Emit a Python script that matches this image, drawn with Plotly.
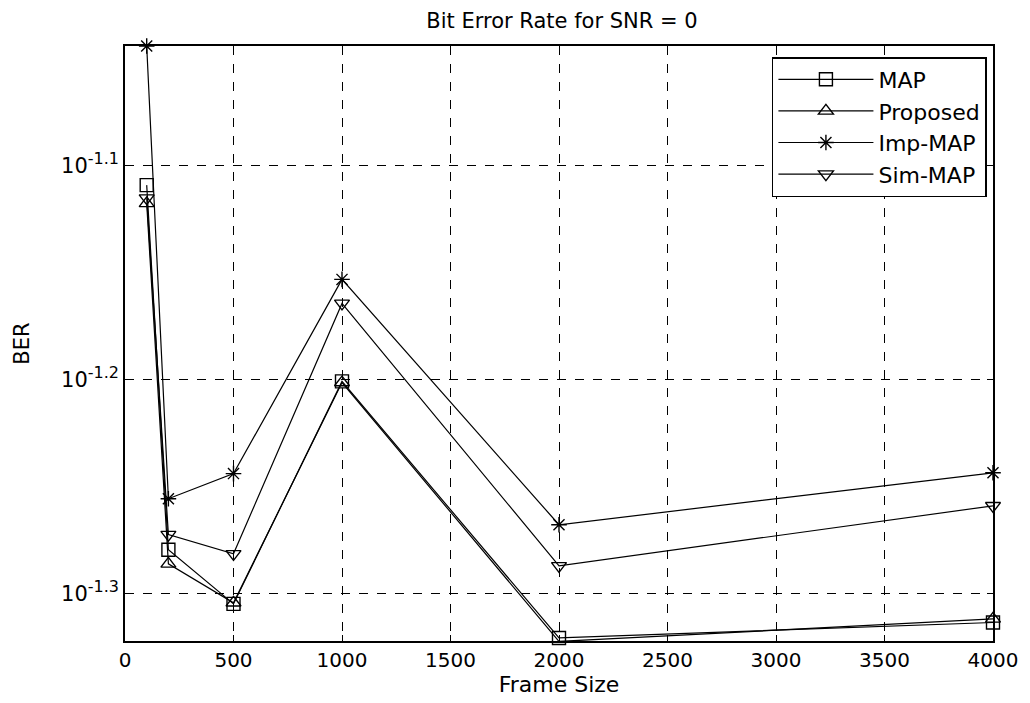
import plotly.graph_objects as go

frame_size = [100, 200, 500, 1000, 2000, 4000]
ber_map = [0.07775, 0.05255, 0.04958, 0.06297, 0.04780, 0.04860]
ber_proposed = [0.07624, 0.05176, 0.04964, 0.06289, 0.04762, 0.04879]
ber_imp_map = [0.09028, 0.05551, 0.05703, 0.07026, 0.05398, 0.05708]
ber_sim_map = [0.07667, 0.05341, 0.05232, 0.06847, 0.05165, 0.05509]

series_names = ["MAP", "Proposed", "Imp-MAP", "Sim-MAP"]
series_values = [ber_map, ber_proposed, ber_imp_map, ber_sim_map]
symbols = ["square-open", "triangle-up-open", "asterisk-open", "triangle-down-open"]
sizes = [13, 13, 13, 13]

x_ticks = [0, 500, 1000, 1500, 2000, 2500, 3000, 3500, 4000]
y_tick_exponents = ["-1.3", "-1.2", "-1.1"]
y_tick_vals = [10 ** float(e) for e in y_tick_exponents]
y_tick_text = ['10<sup><span style="font-size:16px">%s</span></sup>' % e
               for e in y_tick_exponents]

FONT = "DejaVu Sans"
W, H = 1022, 695  # page body offsets the figure by 8px

fig = go.Figure()
for name, vals, sym, sz in zip(series_names, series_values, symbols, sizes):
    fig.add_trace(go.Scatter(
        x=frame_size, y=vals, name=name, mode="lines+markers",
        line=dict(color="black", width=1.2),
        marker=dict(symbol=sym, size=sz, color="black",
                    line=dict(color="black", width=1.4)),
        cliponaxis=False,
    ))

axis_common = dict(
    showline=True, linecolor="black", linewidth=1.5, mirror="ticks",
    ticks="inside", ticklen=6, tickcolor="black",
    showgrid=True, gridcolor="black", gridwidth=1, griddash="dash",
    zeroline=False,
)

fig.update_layout(
    width=W, height=H,
    margin=dict(l=116, r=33, t=38, b=62),
    paper_bgcolor="white", plot_bgcolor="white",
    font=dict(family=FONT, size=20, color="black"),
    title=dict(text="Bit Error Rate for SNR = 0", x=554 / W, xanchor="center",
               y=1 - 13 / H, yanchor="middle", yref="container",
               font=dict(family=FONT, size=21, color="black")),
    xaxis=dict(range=[0, 4000], tickvals=x_ticks,
               tickfont=dict(family=FONT, size=20, color="black"),
               title=dict(text="Frame Size", standoff=1,
                          font=dict(family=FONT, size=22, color="black")),
               **axis_common),
    yaxis=dict(type="log", range=[-1.322, -1.0444],
               tickvals=y_tick_vals, ticktext=y_tick_text,
               tickfont=dict(family=FONT, size=21, color="black"),
               title=dict(text="BER", standoff=26,
                          font=dict(family=FONT, size=21, color="black")),
               **axis_common),
    legend=dict(x=0.993, xanchor="right", y=0.9815, yanchor="top",
                bgcolor="white", bordercolor="black", borderwidth=1.5,
                font=dict(family=FONT, size=22, color="black"),
                itemwidth=95, tracegroupgap=0),
    showlegend=True,
)

fig.write_html("out.html")
